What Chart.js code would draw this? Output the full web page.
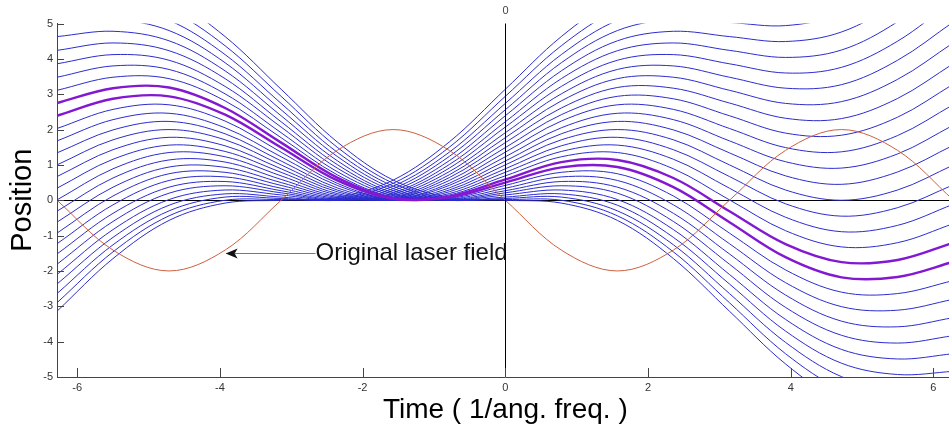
<!DOCTYPE html>
<html>
<head>
<meta charset="utf-8">
<script src="https://cdn.jsdelivr.net/npm/chart.js@4.4.1/dist/chart.umd.min.js"></script>
<style>
    html, body { margin: 0; padding: 0; background: #fff; overflow: hidden; }
    #wrap { position: relative; width: 960px; height: 427px; }
</style>
</head>
<body>
<div id="wrap"><canvas id="trajChart"></canvas></div>
<script>
/* ================================================================
   Electron trajectories in a laser field (position vs time)
================================================================ */

/* ── sample times (1/ang. freq.) ── */
const T = [-6.283, -5.498, -4.712, -3.927, -3.142, -2.356, -1.571, -0.785, 0,
           0.785, 1.571, 2.356, 3.142, 3.927, 4.712, 5.498, 6.283];

/* ── original laser field (red) ── */
const LASER = [0, -1.41, -2, -1.41, 0, 1.41, 2, 1.41, 0, -1.41, -2, -1.41, 0, 1.41, 2, 1.41, 0];

/* ── the two highlighted (purple) trajectories ── */
const PURPLE_UPPER = [2.75, 3.17, 3.19, 2.61, 1.63, 0.64, 0.06, 0.08, 0.50, 0.93, 0.94, 0.37, -0.62, -1.61, -2.18, -2.17, -1.74];
const PURPLE_LOWER = [2.39, 2.87, 2.94, 2.42, 1.49, 0.56, 0.04, 0.11, 0.59, 1.08, 1.14, 0.63, -0.31, -1.24, -1.75, -1.69, -1.20];

/* ── the blue family of trajectories ── */
const BLUE = [
    [6.28, 6.20, 5.71, 4.63, 3.14, 1.65, 0.57, 0.08, 0, -0.08, -0.57, -1.65, -3.14, -4.63, -5.71, -6.20, -6.28],
    [5.85, 5.83, 5.39, 4.37, 2.94, 1.50, 0.48, 0.04, 0.02, 0.00, -0.44, -1.46, -2.90, -4.34, -5.36, -5.79, -5.82],
    [5.44, 5.47, 5.09, 4.12, 2.74, 1.36, 0.40, 0.02, 0.05, 0.09, -0.30, -1.26, -2.64, -4.02, -4.99, -5.37, -5.33],
    [5.03, 5.12, 4.80, 3.89, 2.56, 1.24, 0.33, 0.00, 0.09, 0.18, -0.14, -1.05, -2.37, -3.70, -4.61, -4.93, -4.84],
    [4.63, 4.78, 4.51, 3.66, 2.39, 1.12, 0.27, 0.00, 0.15, 0.29, 0.02, -0.83, -2.10, -3.37, -4.22, -4.49, -4.34],
    [4.24, 4.45, 4.23, 3.44, 2.22, 1.01, 0.21, 0.00, 0.21, 0.41, 0.20, -0.60, -1.81, -3.03, -3.82, -4.04, -3.83],
    [3.86, 4.12, 3.96, 3.22, 2.07, 0.91, 0.17, 0.01, 0.27, 0.53, 0.37, -0.37, -1.52, -2.68, -3.42, -3.58, -3.32],
    [3.48, 3.80, 3.70, 3.01, 1.91, 0.81, 0.13, 0.03, 0.34, 0.66, 0.56, -0.13, -1.23, -2.33, -3.01, -3.11, -2.80],
    [3.11, 3.48, 3.44, 2.81, 1.77, 0.72, 0.09, 0.05, 0.42, 0.79, 0.75, 0.12, -0.93, -1.97, -2.60, -2.64, -2.27],
    [2.03, 2.57, 2.70, 2.24, 1.36, 0.48, 0.02, 0.15, 0.69, 1.23, 1.35, 0.89, 0.01, -0.86, -1.32, -1.20, -0.66],
    [1.68, 2.28, 2.46, 2.05, 1.23, 0.42, 0.01, 0.19, 0.79, 1.38, 1.56, 1.16, 0.34, -0.48, -0.89, -0.71, -0.11],
    [1.34, 1.99, 2.23, 1.88, 1.11, 0.35, 0.00, 0.24, 0.89, 1.54, 1.78, 1.43, 0.67, -0.10, -0.45, -0.21, 0.44],
    [1.00, 1.71, 2.00, 1.71, 1.00, 0.29, 0.00, 0.29, 1.00, 1.71, 2.00, 1.71, 1.00, 0.29, 0.00, 0.29, 1.00],
    [0.67, 1.43, 1.78, 1.54, 0.89, 0.24, 0.00, 0.35, 1.11, 1.88, 2.23, 1.99, 1.34, 0.69, 0.45, 0.80, 1.56],
    [0.34, 1.16, 1.56, 1.38, 0.79, 0.19, 0.01, 0.42, 1.23, 2.05, 2.46, 2.28, 1.68, 1.09, 0.91, 1.31, 2.13],
    [0.01, 0.89, 1.35, 1.23, 0.69, 0.15, 0.02, 0.48, 1.36, 2.24, 2.70, 2.57, 2.03, 1.49, 1.37, 1.83, 2.71],
    [-0.31, 0.63, 1.14, 1.08, 0.59, 0.11, 0.04, 0.56, 1.49, 2.42, 2.94, 2.87, 2.39, 1.90, 1.84, 2.35, 3.29],
    [-0.62, 0.37, 0.94, 0.93, 0.50, 0.08, 0.06, 0.64, 1.63, 2.61, 3.19, 3.17, 2.75, 2.32, 2.31, 2.88, 3.87],
    [-0.93, 0.12, 0.75, 0.79, 0.42, 0.05, 0.09, 0.72, 1.77, 2.81, 3.44, 3.48, 3.11, 2.74, 2.79, 3.42, 4.46],
    [-1.23, -0.13, 0.56, 0.66, 0.34, 0.03, 0.13, 0.81, 1.91, 3.01, 3.70, 3.80, 3.48, 3.17, 3.27, 3.96, 5.05],
    [-1.52, -0.37, 0.37, 0.53, 0.27, 0.01, 0.17, 0.91, 2.07, 3.22, 3.96, 4.12, 3.86, 3.60, 3.76, 4.50, 5.66],
    [-1.81, -0.60, 0.20, 0.41, 0.21, 0.00, 0.21, 1.01, 2.22, 3.44, 4.23, 4.45, 4.24, 4.04, 4.25, 5.05, 6.26],
    [-2.10, -0.83, 0.02, 0.29, 0.15, 0.00, 0.27, 1.12, 2.39, 3.66, 4.51, 4.78, 4.63, 4.49, 4.76, 5.61, 6.88],
    [-2.37, -1.05, -0.14, 0.18, 0.09, 0.00, 0.33, 1.24, 2.56, 3.89, 4.80, 5.12, 5.03, 4.94, 5.27, 6.18, 7.50],
    [-2.64, -1.26, -0.30, 0.09, 0.05, 0.02, 0.40, 1.36, 2.74, 4.12, 5.09, 5.47, 5.44, 5.40, 5.78, 6.75, 8.13],
    [-2.90, -1.46, -0.44, 0.00, 0.02, 0.04, 0.48, 1.50, 2.94, 4.37, 5.39, 5.83, 5.85, 5.87, 6.31, 7.33, 8.77],
    [-3.14, -1.65, -0.57, -0.08, 0, 0.08, 0.57, 1.65, 3.14, 4.63, 5.71, 6.20, 6.28, 6.36, 6.85, 7.93, 9.42]
];

/* ── axes ── */
const X_TICKS = [-6, -4, -2, 0, 2, 4, 6];
const Y_TICKS = [-5, -4, -3, -2, -1, 0, 1, 2, 3, 4, 5];
const X_RANGE = [-6.283, 6.283];
const Y_RANGE = [-5, 5];

/* ── annotation (data coords) ── */
const NOTE_TEXT = "Original laser field";
const NOTE_TIP = { x: -3.92, y: -1.48 };
const NOTE_AT = { x: -2.66, y: -1.48 };

const FONT = "'Liberation Sans', Arial, sans-serif";
const TICK = "#333";
const COLORS = {
    blue: "#2c2cd0",
    purple: "#8318d2",
    laser: "#cc6040"
};

function series(values, color, width) {
    return {
        data: values.map((v, i) => ({ x: T[i], y: v })),
        borderColor: color, borderWidth: width,
        pointRadius: 0, tension: 0.35, fill: false
    };
}

/* ── zero lines, inward ticks, top "0", arrow note ── */
const overlay = {
    id: "overlay",
    beforeDatasetsDraw(chart) {
        /* horizontal zero line sits under the curves */
        const { ctx, chartArea: a, scales: { y } } = chart;
        const y0 = Math.round(y.getPixelForValue(0)) + 0.5;
        ctx.save();
        ctx.strokeStyle = "#000";
        ctx.lineWidth = 1;
        ctx.beginPath(); ctx.moveTo(a.left, y0); ctx.lineTo(a.right, y0); ctx.stroke();
        ctx.restore();
    },
    afterDatasetsDraw(chart) {
        const { ctx, chartArea: a, scales: { x, y } } = chart;
        ctx.save();

        const x0 = Math.round(x.getPixelForValue(0)) + 0.5;
        ctx.strokeStyle = "#000";
        ctx.lineWidth = 1;
        ctx.beginPath(); ctx.moveTo(x0, a.top); ctx.lineTo(x0, a.bottom); ctx.stroke();

        ctx.strokeStyle = "#444";
        ctx.beginPath();
        x.ticks.forEach(t => {
            const p = Math.round(x.getPixelForValue(t.value)) + 0.5;
            ctx.moveTo(p, a.bottom); ctx.lineTo(p, a.bottom - 9);
        });
        y.ticks.forEach(t => {
            const p = Math.round(y.getPixelForValue(t.value)) + 0.5;
            ctx.moveTo(a.left, p); ctx.lineTo(a.left + 7, p);
        });
        ctx.stroke();

        ctx.fillStyle = "#444";
        ctx.font = "11px " + FONT;
        ctx.textAlign = "center";
        ctx.textBaseline = "middle";
        ctx.fillText("0", x0, a.top - 13);

        /* arrow from the note back to the red curve */
        const tx = x.getPixelForValue(NOTE_TIP.x), ty = Math.round(y.getPixelForValue(NOTE_TIP.y)) + 0.5;
        const nx = x.getPixelForValue(NOTE_AT.x);
        ctx.strokeStyle = "#777";
        ctx.beginPath(); ctx.moveTo(tx + 9, ty); ctx.lineTo(nx, ty); ctx.stroke();
        ctx.fillStyle = "#111";
        ctx.beginPath();
        ctx.moveTo(tx, ty); ctx.lineTo(tx + 12, ty - 5); ctx.lineTo(tx + 9, ty); ctx.lineTo(tx + 12, ty + 5);
        ctx.closePath(); ctx.fill();

        ctx.fillStyle = "#111";
        ctx.font = "24px " + FONT;
        ctx.textAlign = "left";
        ctx.fillText(NOTE_TEXT, nx, ty);

        ctx.restore();
    }
};

const datasets = [
    series(LASER, COLORS.laser, 1),
    series(PURPLE_UPPER, COLORS.purple, 2.4),
    series(PURPLE_LOWER, COLORS.purple, 2.4),
    ...BLUE.map(row => series(row, COLORS.blue, 1))
];

new Chart(document.getElementById("trajChart").getContext("2d"), {
    type: "line",
    data: { datasets },
    plugins: [overlay],
    options: {
        responsive: true, maintainAspectRatio: false,
        animation: false,
        layout: { padding: { top: 23.5, right: 6.4, left: 0, bottom: 0 } },
        plugins: { legend: { display: false }, tooltip: { enabled: false } },
        scales: {
            x: {
                type: "linear", min: X_RANGE[0], max: X_RANGE[1],
                afterBuildTicks: s => { s.ticks = X_TICKS.map(v => ({ value: v })); },
                afterFit: s => { s.height = 50; },
                grid: { display: false, drawTicks: false },
                border: { display: true, color: "#444", width: 1 },
                ticks: { color: TICK, font: { family: FONT, size: 11 }, padding: 4, maxRotation: 0, autoSkip: false },
                title: {
                    display: true, text: "Time ( 1/ang. freq. )", color: "#000",
                    font: { family: FONT, size: 28 }, padding: { top: 0, bottom: 0 }
                }
            },
            y: {
                type: "linear", min: Y_RANGE[0], max: Y_RANGE[1],
                afterBuildTicks: s => { s.ticks = Y_TICKS.map(v => ({ value: v })); },
                afterFit: s => { s.width = 57; },
                grid: { display: false, drawTicks: false },
                border: { display: true, color: "#444", width: 1 },
                ticks: { color: TICK, font: { family: FONT, size: 11 }, padding: 4 },
                title: {
                    display: true, text: "Position", color: "#000",
                    font: { family: FONT, size: 29 }, padding: { top: 6, bottom: 0 }
                }
            }
        }
    }
});
</script>
</body>
</html>
